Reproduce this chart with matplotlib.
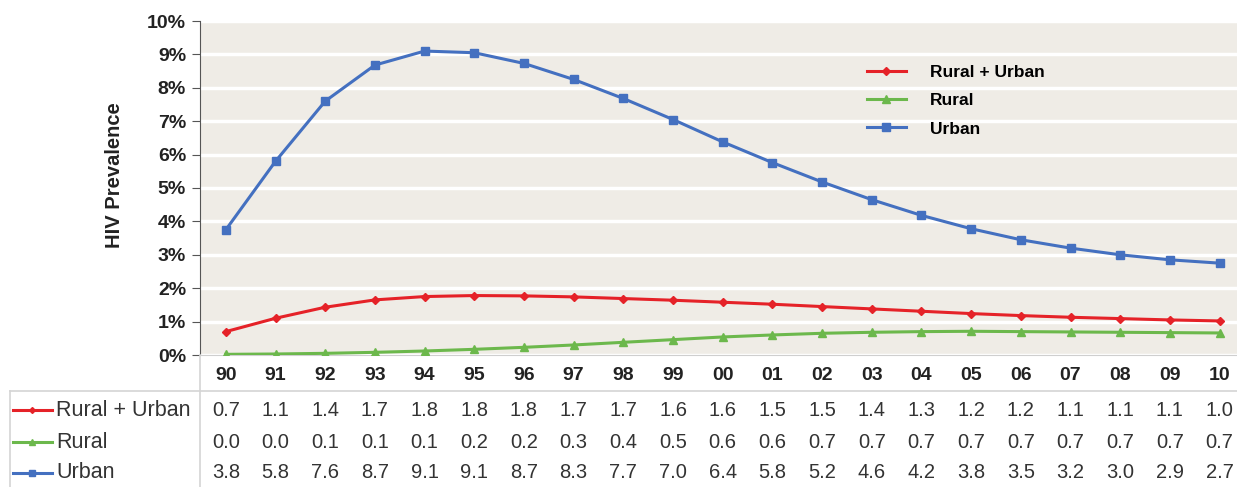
import matplotlib.pyplot as plt
from matplotlib.lines import Line2D

plt.rcParams['font.family'] = ['Liberation Sans', 'DejaVu Sans']

# données
annees = ["90", "91", "92", "93", "94", "95", "96", "97", "98", "99", "00",
          "01", "02", "03", "04", "05", "06", "07", "08", "09", "10"]

# valeurs (%)
rural_urbain = [0.70, 1.10, 1.43, 1.65, 1.75, 1.78, 1.77, 1.74, 1.69, 1.64, 1.58,
                1.52, 1.45, 1.38, 1.31, 1.24, 1.18, 1.13, 1.09, 1.05, 1.02]
rural = [0.02, 0.03, 0.05, 0.08, 0.12, 0.17, 0.23, 0.30, 0.38, 0.46, 0.54,
         0.60, 0.65, 0.68, 0.70, 0.71, 0.70, 0.69, 0.68, 0.67, 0.66]
urbain = [3.75, 5.80, 7.60, 8.68, 9.10, 9.05, 8.73, 8.25, 7.68, 7.05, 6.38,
          5.76, 5.18, 4.65, 4.18, 3.78, 3.45, 3.20, 3.00, 2.85, 2.75]

# valeurs du tableau
tab_rural_urbain = [0.7, 1.1, 1.4, 1.7, 1.8, 1.8, 1.8, 1.7, 1.7, 1.6, 1.6,
                    1.5, 1.5, 1.4, 1.3, 1.2, 1.2, 1.1, 1.1, 1.1, 1.0]
tab_rural = [0.0, 0.0, 0.1, 0.1, 0.1, 0.2, 0.2, 0.3, 0.4, 0.5, 0.6,
             0.6, 0.7, 0.7, 0.7, 0.7, 0.7, 0.7, 0.7, 0.7, 0.7]
tab_urbain = [3.8, 5.8, 7.6, 8.7, 9.1, 9.1, 8.7, 8.3, 7.7, 7.0, 6.4,
              5.8, 5.2, 4.6, 4.2, 3.8, 3.5, 3.2, 3.0, 2.9, 2.7]

ROUGE = "#e52228"
VERT = "#6cb84c"
BLEU = "#4470c0"

series = [
    ("Rural + Urban", rural_urbain, tab_rural_urbain, ROUGE, "D", 4),
    ("Rural", rural, tab_rural, VERT, "^", 6),
    ("Urban", urbain, tab_urbain, BLEU, "s", 6),
]

W, H = 1237, 487
fig = plt.figure(figsize=(W / 100, H / 100), dpi=100)
ax = fig.add_axes([200 / W, 1 - 355 / H, 1037 / W, 334 / H])
ax.set_facecolor("#efece6")

x = list(range(len(annees)))
for nom, vals, _, couleur, marqueur, ms in series:
    ax.plot(x, vals, color=couleur, lw=2.2, marker=marqueur, ms=ms,
            label=nom, zorder=3)

ax.set_xlim(-0.52, 20.35)
ax.set_ylim(0, 10)
ax.set_yticks(range(0, 11))
ax.set_yticklabels([f"{i}%" for i in range(0, 11)], fontsize=14,
                   fontweight="bold", color="#222222")
ax.set_xticks([])
ax.grid(axis="y", color="white", lw=2.5, zorder=1)
ax.set_axisbelow(True)
for cote in ["top", "right"]:
    ax.spines[cote].set_visible(False)
ax.spines["left"].set_color("#555555")
ax.spines["bottom"].set_color("#cfcfcf")
ax.tick_params(axis="y", length=6, color="#555555", direction="out", pad=4)
ax.text(-0.082, 0.539, "HIV Prevalence", transform=ax.transAxes, rotation=90,
        ha="center", va="center", fontsize=14.5, fontweight="bold",
        color="#222222")

leg = ax.legend(loc="upper left", bbox_to_anchor=(0.628, 0.915), frameon=False,
                prop={"size": 12.5, "weight": "bold"}, handlelength=2.25,
                handletextpad=1.4, labelspacing=0.75)

# étiquettes des années et tableau
trans = ax.get_xaxis_transform()
for i, a in enumerate(annees):
    ax.text(i, (355 - 375) / 334, a, transform=trans, ha="center",
            va="center", fontsize=14, fontweight="bold", color="#222222",
            clip_on=False)

lignes_y = [410, 442, 473]
for (nom, _, tab, couleur, marqueur, ms), yp in zip(series, lignes_y):
    yf = 1 - yp / H
    fig.add_artist(Line2D([13 / W, 52 / W], [yf, yf], color=couleur, lw=2.2))
    fig.add_artist(Line2D([32 / W], [yf], color=couleur, marker=marqueur,
                          ms=ms - 1, lw=0))
    fig.text(56 / W, yf, nom, ha="left", va="center", fontsize=15.5,
             color="#333333")
    ya = (355 - yp) / 334
    for i, v in enumerate(tab):
        ax.text(i, ya, f"{v:.1f}", transform=trans, ha="center", va="center",
                fontsize=14.5, color="#333333", clip_on=False)

gris = "#d4d4d4"
fig.add_artist(Line2D([10 / W, 1], [1 - 391 / H, 1 - 391 / H], color=gris, lw=1.2))
fig.add_artist(Line2D([10 / W, 10 / W], [0, 1 - 391 / H], color=gris, lw=1.2))
fig.add_artist(Line2D([200 / W, 200 / W], [0, 1 - 355 / H], color=gris, lw=1.2))

fig.savefig("out.png", dpi=100)
